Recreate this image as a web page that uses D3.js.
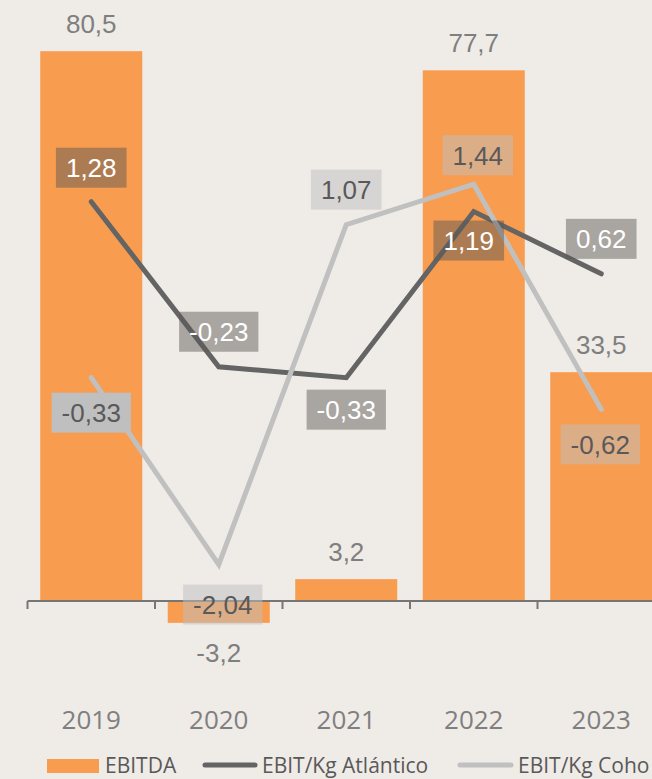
<!DOCTYPE html>
<html>
<head>
<meta charset="utf-8">
<script src="https://cdn.jsdelivr.net/npm/d3@7"></script>
<style>
  html, body { margin: 0; padding: 0; background: #efebe7; }
  svg { display: block; }
</style>
</head>
<body>
<svg id="chart" width="652" height="779"></svg>
<script>
// ---- data ----
const years = ["2019", "2020", "2021", "2022", "2023"];
const ebitda = [80.5, -3.2, 3.2, 77.7, 33.5];
const ebitAtlantico = [1.28, -0.23, -0.33, 1.19, 0.62];
const ebitCoho = [-0.33, -2.04, 1.07, 1.44, -0.62];
const seriesNames = ["EBITDA", "EBIT/Kg Atlántico", "EBIT/Kg Coho"];

// label placement (above / below the point)
const atlPlace = ["above", "above", "below", "below", "above"];
const cohoPlace = ["below", "below", "above", "above", "below"];

const W = 652, H = 779;
const bg = "#efebe7";
const orange = "#f89c50";
const darkLine = "#646464";
const lightLine = "#c0c0c0";
const textGray = "#7f7f7f";

const fmt = v => String(v).replace(".", ",");

const svg = d3.select("#chart");
svg.append("rect").attr("width", W).attr("height", H).attr("fill", bg);

const x = d3.scaleBand().domain(years).range([27.5, 665]).paddingInner(0.2).paddingOuter(0.1);
const y = d3.scaleLinear().domain([-10, 90]).range([669.3, -13.7]);
const y2 = d3.scaleLinear().domain([-3, 3]).range([669.5, 13.7]);
const cx = yr => x(yr) + x.bandwidth() / 2;

// bars
svg.append("g").selectAll("rect").data(years).join("rect")
  .attr("x", d => x(d))
  .attr("width", x.bandwidth())
  .attr("y", (d, i) => y(Math.max(0, ebitda[i])))
  .attr("height", (d, i) => Math.abs(y(ebitda[i]) - y(0)))
  .attr("fill", orange);

// axis
const axisG = svg.append("g").attr("transform", `translate(0,${y(0)})`);
axisG.append("line").attr("x1", 27.5).attr("x2", 665).attr("y1", 0).attr("y2", 0)
  .attr("stroke", "#767676").attr("stroke-width", 2);
const tickPos = years.map(yr => x(yr) - x.step() * x.paddingInner() / 2).concat([665]);
axisG.selectAll("line.tick").data(tickPos).join("line").attr("class", "tick")
  .attr("x1", d => d).attr("x2", d => d).attr("y1", 0).attr("y2", 8)
  .attr("stroke", "#767676").attr("stroke-width", 2);

// year labels
svg.append("g").selectAll("text").data(years).join("text")
  .attr("x", d => cx(d)).attr("y", 729)
  .attr("text-anchor", "middle")
  .attr("font-family", "'Open Sans', sans-serif").attr("font-size", 26)
  .attr("fill", textGray).text(d => d);

// EBITDA labels
svg.append("g").selectAll("text").data(years).join("text")
  .attr("x", d => cx(d))
  .attr("y", (d, i) => ebitda[i] >= 0 ? y(ebitda[i]) - 18 : y(ebitda[i]) + 39)
  .attr("text-anchor", "middle")
  .attr("font-family", "'Liberation Sans', Arial, sans-serif").attr("font-size", 26)
  .attr("fill", textGray).text((d, i) => fmt(ebitda[i]));

// lines
const lineA = d3.line().x((d, i) => cx(years[i])).y(d => y2(d));
svg.append("path").datum(ebitAtlantico).attr("d", lineA)
  .attr("fill", "none").attr("stroke", darkLine).attr("stroke-width", 5)
  .attr("stroke-linecap", "round").attr("stroke-linejoin", "miter");
svg.append("path").datum(ebitCoho).attr("d", lineA)
  .attr("fill", "none").attr("stroke", lightLine).attr("stroke-width", 5)
  .attr("stroke-linecap", "round").attr("stroke-linejoin", "miter");

// line value labels
function drawLabels(values, place, boxFill, boxOpacity, txtColor, offAbove, offBelow, dx) {
  const g = svg.append("g");
  values.forEach((v, i) => {
    const px = cx(years[i]) + (dx[i] || 0);
    const py = y2(v) + (place[i] === "above" ? offAbove[i] : offBelow[i]);
    const t = g.append("text")
      .attr("x", px).attr("y", py + 9.5)
      .attr("text-anchor", "middle")
      .attr("font-family", "'Liberation Sans', Arial, sans-serif").attr("font-size", 26)
      .attr("fill", txtColor).text(fmt(v));
    const bw = t.node().getComputedTextLength() + 20;
    g.insert("rect", "text")
      .attr("x", px - bw / 2).attr("y", py - 20)
      .attr("width", bw).attr("height", 40)
      .attr("fill", boxFill).attr("fill-opacity", boxOpacity[i]);
  });
}
drawLabels(ebitAtlantico, atlPlace, "#5b5855", [0.48, 0.48, 0.48, 0.48, 0.48], "#ffffff",
  [-34, -35, -35, -35, -35], [32, 32, 32, 29, 32], [0, 0, 0, -5, 0]);
drawLabels(ebitCoho, cohoPlace, "#bfbfbf", [1, 0.5, 0.5, 0.5, 0.5], "#595959",
  [-35, -35, -35, -29, -35], [35, 40, 35, 35, 35], [0, 4, 0, 4, -1]);

// legend
const lg = svg.append("g").attr("font-family", "'Open Sans', sans-serif").attr("font-size", 21).attr("fill", "#595959");
lg.append("rect").attr("x", 47).attr("y", 759).attr("width", 52).attr("height", 14).attr("fill", orange);
lg.append("text").attr("x", 105).attr("y", 773).attr("fill", "#595959").text(seriesNames[0]);
lg.append("line").attr("x1", 205).attr("x2", 255).attr("y1", 765).attr("y2", 765)
  .attr("stroke", darkLine).attr("stroke-width", 5).attr("stroke-linecap", "round");
lg.append("text").attr("x", 262).attr("y", 773).attr("fill", "#595959").text(seriesNames[1]);
lg.append("line").attr("x1", 460).attr("x2", 511).attr("y1", 765).attr("y2", 765)
  .attr("stroke", lightLine).attr("stroke-width", 5).attr("stroke-linecap", "round");
lg.append("text").attr("x", 518).attr("y", 773).attr("fill", "#595959").text(seriesNames[2]);
</script>
</body>
</html>
